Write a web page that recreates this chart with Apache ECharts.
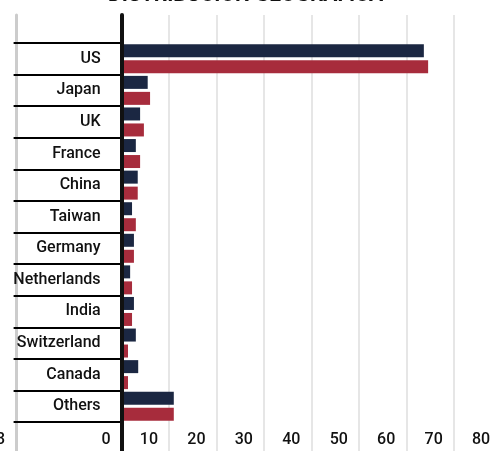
<!DOCTYPE html>
<html>
<head>
<meta charset="utf-8">
<script src="https://cdn.jsdelivr.net/npm/echarts@6/dist/echarts.min.js"></script>
<style>
html,body{margin:0;padding:0;background:#fff;}
#c{width:491px;height:451px;}
</style>
</head>
<body>
<div id="c"></div>
<script>
const titleText = 'DISTRIBUCIÓN GEOGRÁFICA';
const categories = ['US','Japan','UK','France','China','Taiwan','Germany','Netherlands','India','Switzerland','Canada','Others'];
const seriesA = [63.7, 5.5, 3.9, 3.0, 3.4, 2.2, 2.6, 1.8, 2.6, 3.0, 3.5, 11.0];
const seriesB = [64.6, 6.0, 4.7, 3.9, 3.4, 3.0, 2.6, 2.2, 2.2, 1.35, 1.35, 11.0];
const xMin = 0, xMax = 80, xStep = 10;
const leftMin = -23;

const chart = echarts.init(document.getElementById('c'), null, {renderer:'canvas'});
const FONT = 'Roboto';
const L = 121.6, R = -10.2;
chart.setOption({
  animation:false,
  backgroundColor:'#ffffff',
  title:{text:titleText, left:'center', top:-20,
    textStyle:{fontFamily:FONT, fontSize:21, fontWeight:'bold', color:'#111'}},
  grid:[
    {left:L, right:R, top:43, bottom:29, outerBoundsMode:'none', containLabel:false},
    {left:L, right:R, top:15, bottom:-10, outerBoundsMode:'none', containLabel:false},
    {left:16, right:491-L, top:15, bottom:-10, outerBoundsMode:'none', containLabel:false}
  ],
  xAxis:[
    {gridIndex:0, type:'value', min:xMin, max:xMax, interval:xStep,
      axisLine:{show:false}, axisTick:{show:false}, splitLine:{show:false},
      axisLabel:{fontFamily:FONT, fontSize:16, fontWeight:500, color:'#111', margin:10,
        align:'right', padding:[0,11,0,0]}},
    {gridIndex:1, type:'value', min:xMin, max:xMax, interval:xStep,
      axisLine:{show:false}, axisTick:{show:false}, axisLabel:{show:false},
      splitLine:{show:true, lineStyle:{color:'#e6e6e6', width:2}}},
    {gridIndex:2, type:'value', min:leftMin, max:0,
      axisLine:{show:false}, axisTick:{show:false}, splitLine:{show:false},
      axisLabel:{fontFamily:FONT, fontSize:16, fontWeight:500, color:'#111', margin:-29,
        align:'right', padding:[0,11,0,0], showMinLabel:true, showMaxLabel:false,
        formatter:function(v){return v===leftMin ? String(v) : '';}}}
  ],
  yAxis:[
    {gridIndex:0, type:'category', data:categories, inverse:true,
      axisLine:{show:false},
      axisTick:{show:true, length:108, lineStyle:{color:'#000', width:2}},
      axisLabel:{fontFamily:FONT, fontSize:16, fontWeight:500, color:'#111', margin:21}},
    {gridIndex:1, type:'value', z:10, axisLabel:{show:false}, axisTick:{show:false}, splitLine:{show:false},
      axisLine:{show:true, onZero:false, lineStyle:{color:'#111', width:4}}},
    {gridIndex:2, type:'value', axisLabel:{show:false}, axisTick:{show:false}, splitLine:{show:false},
      axisLine:{show:true, onZero:false, lineStyle:{color:'#cccccc', width:3}}}
  ],
  series:[
    {type:'bar', xAxisIndex:0, yAxisIndex:0, data:seriesA, barWidth:13, barGap:'23%',
      itemStyle:{color:'#1b2742'}},
    {type:'bar', xAxisIndex:0, yAxisIndex:0, data:seriesB, barWidth:13, barGap:'23%',
      itemStyle:{color:'#a72c3c'}}
  ]
});
</script>
</body>
</html>
